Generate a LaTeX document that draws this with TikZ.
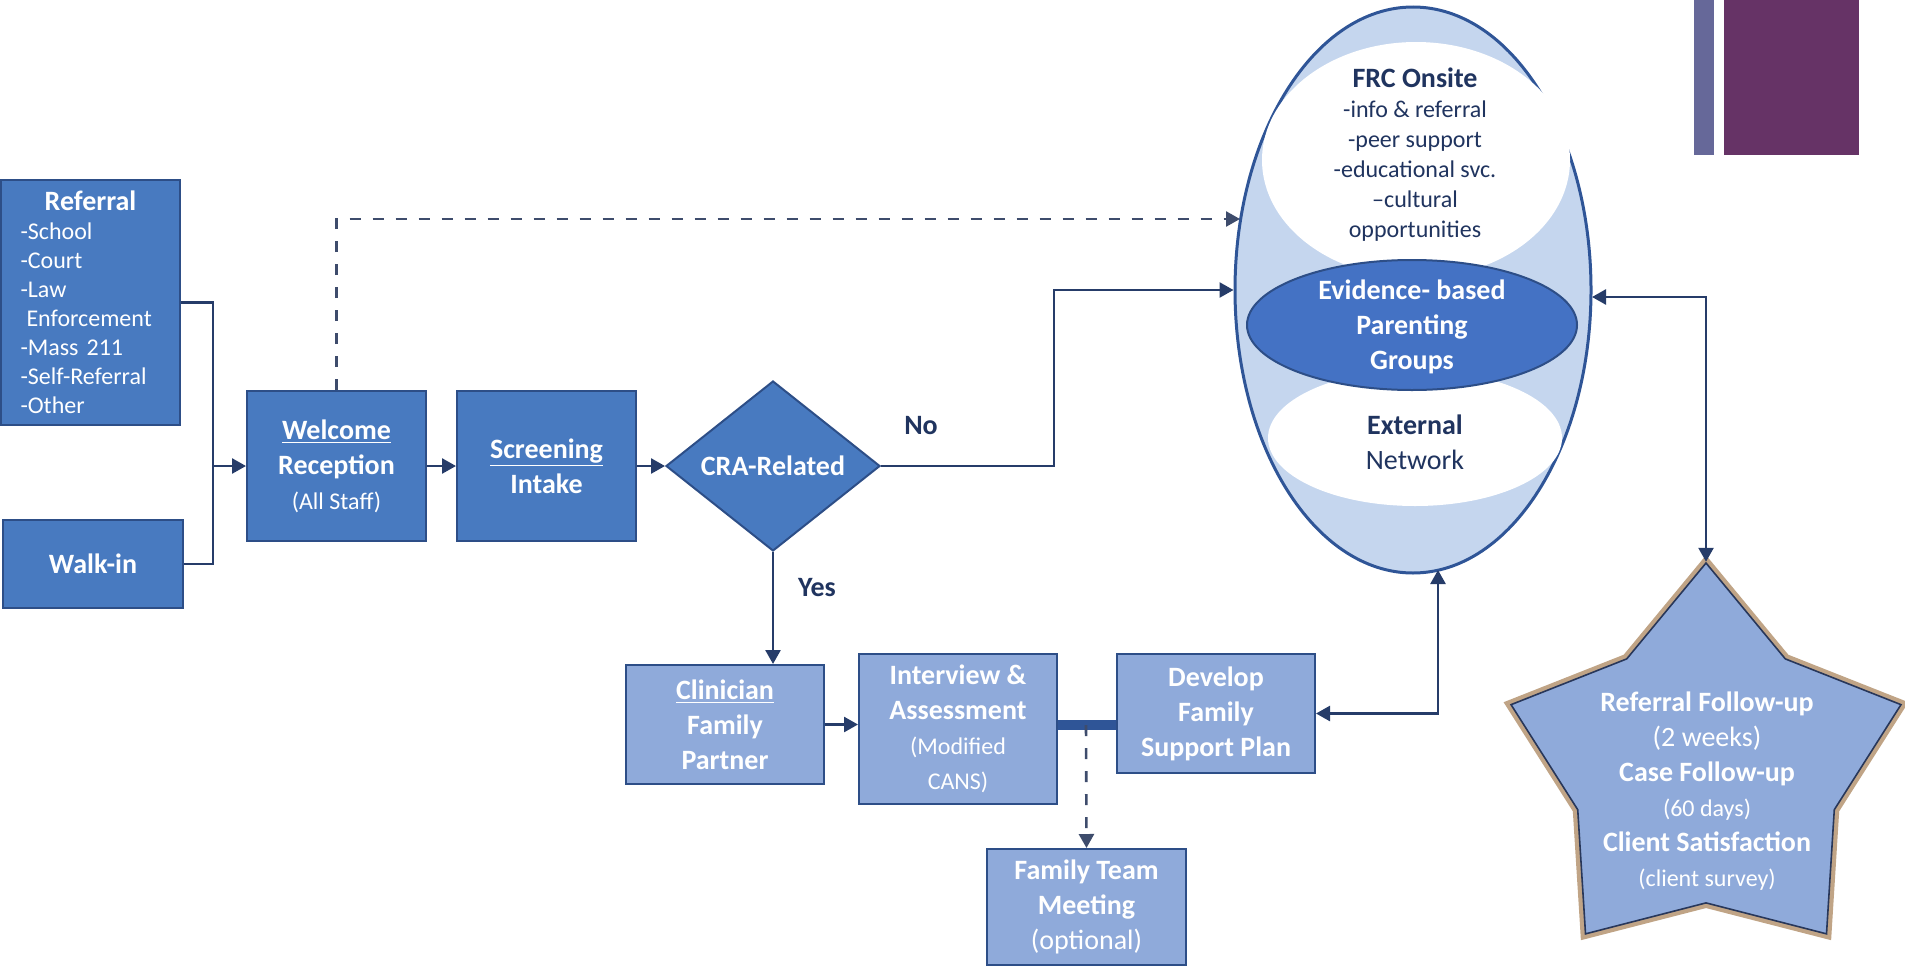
\documentclass[tikz,border=0pt]{standalone}
\usepackage{fontspec}
\setmainfont{Carlito}
\usepackage{tikz}
\usetikzlibrary{arrows.meta,positioning,calc,shapes.geometric}
\definecolor{boxblue}{RGB}{72,122,192}
\definecolor{boxedge}{RGB}{45,78,135}
\definecolor{paleblue}{RGB}{143,170,218}
\definecolor{frcfill}{RGB}{197,214,238}
\definecolor{frcedge}{RGB}{47,85,151}
\definecolor{evblue}{RGB}{68,114,196}
\definecolor{navy1}{RGB}{32,52,95}
\definecolor{lineblue}{RGB}{38,60,105}
\definecolor{dashgrey}{RGB}{62,76,108}
\definecolor{glowtan}{RGB}{192,164,134}
\definecolor{staredge}{RGB}{40,55,90}
\definecolor{plum1}{RGB}{102,51,102}
\definecolor{slate1}{RGB}{102,104,153}
\newcommand{\bigbf}{\fontsize{14}{17.5}\selectfont\bfseries}
\newcommand{\bignorm}{\fontsize{14}{17.5}\selectfont\mdseries}
\newcommand{\smallnorm}{\fontsize{12}{15}\selectfont\mdseries}

\begin{document}
\begin{tikzpicture}[x=0.5pt,y=-0.5pt,
  darkbox/.style={draw=boxedge,line width=1pt,fill=boxblue,text=white,font=\bigbf,align=center,minimum width=89.5pt,minimum height=75pt,inner sep=2pt},
  palebox/.style={draw=boxedge,line width=1pt,fill=paleblue,text=white,font=\bigbf,align=center,minimum width=99pt,minimum height=59.5pt,inner sep=2pt},
  lbl/.style={text=navy1,font=\bigbf},
  link/.style={draw=lineblue,line width=1.3pt},
  flow/.style={link,-{Triangle[length=7pt,width=7.5pt]}},
  biflow/.style={link,{Triangle[length=7pt,width=7.5pt]}-{Triangle[length=7pt,width=7.5pt]}},
  dashflow/.style={flow,draw=dashgrey,dash pattern=on 5.5pt off 6pt},
  bar/.style={draw=frcedge,line width=5pt},
  starbase/.style={star,star points=5,star point ratio=1.52,minimum size=205pt,inner sep=0pt}]
\useasboundingbox (0,0) rectangle (1905,969);

% corner bars
\fill[slate1] (1694,0) rectangle (1714,155);
\fill[plum1] (1724,0) rectangle (1859,155);

% intake row
\node[darkbox,minimum width=89.5pt,minimum height=122.5pt,text width=70pt,align=left,font=\fontsize{12}{14.5}\selectfont] (referral) at (90.5,302.5)
  {\makebox[\hsize][c]{\bigbf Referral}\\-School\\-Court\\-Law\\\hspace*{3pt}Enforcement\\-Mass 211\\-Self-Referral\\-Other};
\node[darkbox,minimum width=90pt,minimum height=44pt] (walkin) at (93,564) {Walk-in};
\node[darkbox] (welcome) at (336.5,466) {\underline{Welcome}\\Reception\\{\smallnorm (All Staff)}};
\node[darkbox,right=14.5pt of welcome] (screening) {\underline{Screening}\\Intake};
\node[diamond,draw=boxedge,line width=1pt,fill=boxblue,text=white,font=\bigbf,aspect=1.26,inner sep=0pt,minimum width=107pt,minimum height=85pt,right=14pt of screening] (cra) {CRA-Related};

% clinical row
\node[palebox] (clinician) at (725,724.5) {\underline{Clinician}\\Family\\Partner};
\node[palebox,minimum height=75pt] (interview) at (958,729) {Interview \&\\Assessment\\{\smallnorm (Modified}\\{\smallnorm CANS)}};
\node[palebox] (develop) at (1216,713.5) {Develop\\Family\\Support Plan};
\node[palebox,minimum width=99.5pt,minimum height=58pt] (familyteam) at (1086.5,907) {Family Team\\Meeting\\{\bignorm (optional)}};

% services ellipse
\node[ellipse,draw=frcedge,line width=1.5pt,fill=frcfill,minimum width=178pt,minimum height=283pt,inner sep=0pt] (frc) at (1413,290) {};
\node[ellipse,fill=white,minimum width=154pt,minimum height=118pt,inner sep=0pt] (onsite) at (1416,160) {};
\node[ellipse,fill=white,minimum width=147pt,minimum height=68pt,inner sep=0pt] (external) at (1415,438) {};
\node[ellipse,draw=boxedge,line width=1pt,fill=evblue,minimum width=165pt,minimum height=65pt,inner sep=0pt] (evidence) at (1412,325) {};
\node[text=navy1,align=center,font=\smallnorm] (onsitetext) at (1415,155)
  {{\bigbf FRC Onsite}\\-info \& referral\\-peer support\\-educational svc.\\--cultural\\opportunities};
\node[text=white,align=center,font=\bigbf] (evidencetext) at (1412,327) {Evidence- based\\Parenting\\Groups};
\node[text=navy1,align=center,font=\bigbf] (externaltext) at (1415,442) {External\\{\bignorm Network}};

% follow-up star
\node[starbase,draw=glowtan,line width=5pt] (followglow) at (1706,768) {};
\node[starbase,draw=staredge,line width=0.8pt,fill=paleblue] (follow) at (1706,768) {};
\node[text=white,align=center,font=\bigbf] (followtext) at (1707,791)
  {Referral Follow-up\\{\bignorm (2 weeks)}\\Case Follow-up\\{\smallnorm (60 days)}\\Client Satisfaction\\{\smallnorm (client survey)}};

% connectors
\coordinate (merge) at (213,466);
\draw[link] (referral.east) -| (merge);
\draw[link] (walkin.east) -| (merge);
\draw[flow] (merge) -- (welcome.west);
\draw[flow] (welcome) -- (screening);
\draw[flow] (screening) -- (cra);

\coordinate (dashend) at (1240,219);
\draw[dashflow] (welcome.north) |- (dashend);

\coordinate (nocorner) at (1054,290);
\draw[flow] (cra.east) -| (nocorner) -- (frc.west);
\node[lbl] (nolabel) at (921,426) {No};

\draw[flow] (cra.south) -- (cra.south |- clinician.north);
\node[lbl] (yeslabel) at (817,588) {Yes};

\draw[flow] (clinician.east) -- (clinician.east -| interview.west);
\coordinate (barmid) at (1086,725);
\draw[bar] (barmid -| interview.east) -- (barmid -| develop.west);
\draw[dashflow] (barmid) -- (familyteam.north);

\coordinate (devend) at (1438,570);
\draw[biflow] (develop.east) -| (devend);

\coordinate (rightend) at (1592,297);
\draw[biflow] (rightend) -| (follow.outer point 1);
\end{tikzpicture}
\end{document}
